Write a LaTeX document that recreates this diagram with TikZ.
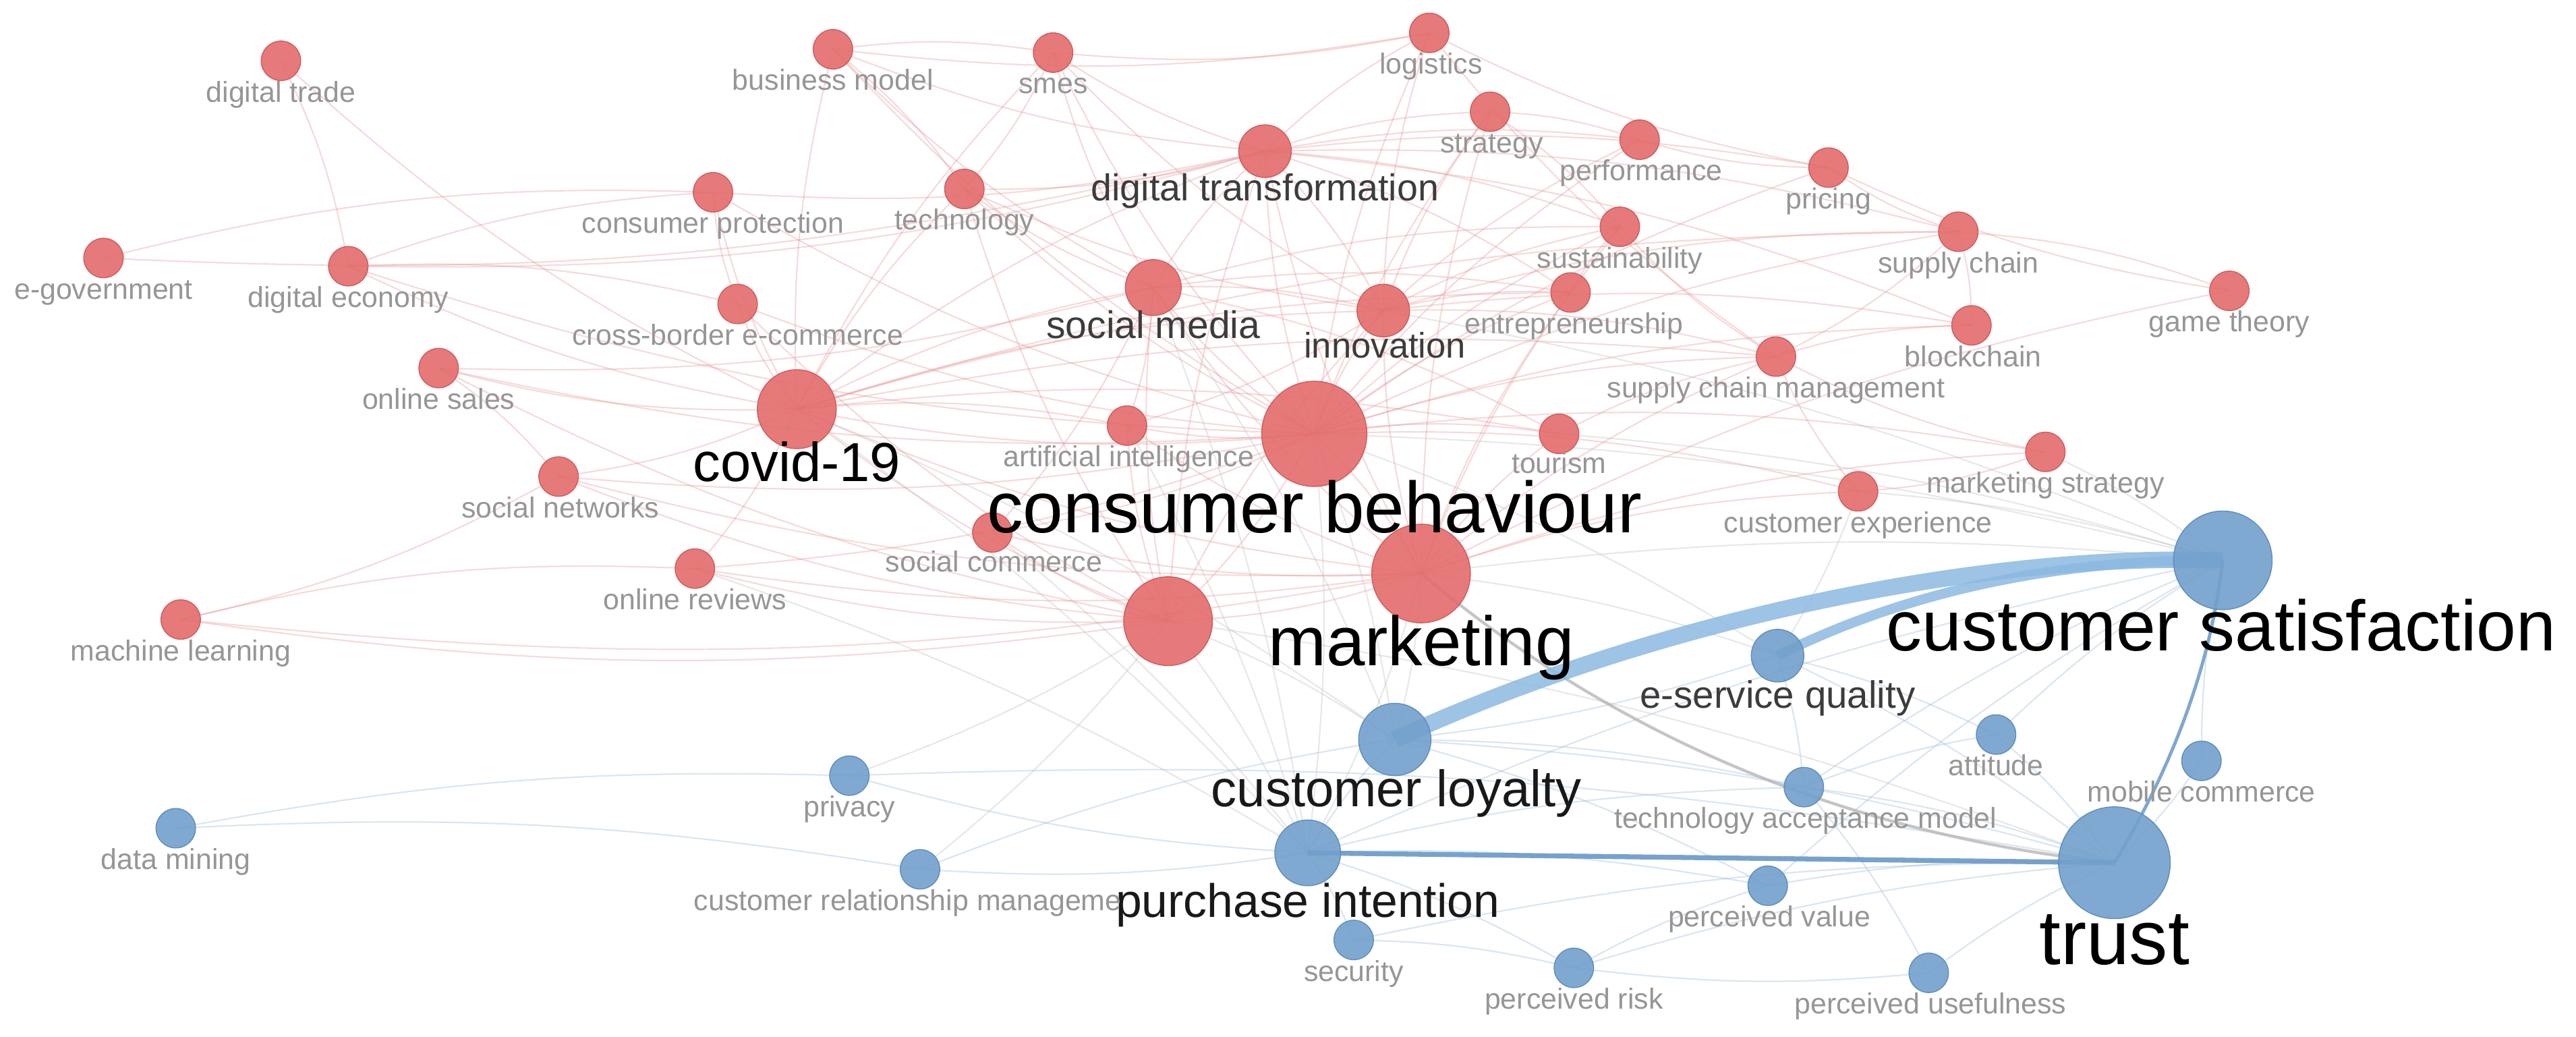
\documentclass[tikz,border=0pt]{standalone}
\usepackage{fontspec}
\setmainfont{Liberation Sans}
\definecolor{nred}{RGB}{228,108,108}
\definecolor{nredd}{RGB}{210,92,92}
\definecolor{nblue}{RGB}{114,160,204}
\definecolor{nblued}{RGB}{96,142,188}
\definecolor{lgrey}{RGB}{150,150,150}
\definecolor{mgrey}{RGB}{60,60,60}
\definecolor{dgrey}{RGB}{25,25,25}
\definecolor{ered}{RGB}{230,145,145}
\definecolor{eblue}{RGB}{160,190,220}
\definecolor{egrey}{RGB}{195,195,195}
\definecolor{band}{RGB}{140,185,225}
\definecolor{bandd}{RGB}{105,152,200}
\pgfdeclarelayer{bg}
\pgfsetlayers{bg,main}
\begin{document}
\begin{tikzpicture}[x=0.5pt,y=-0.5pt,
  rn/.style={circle,fill=nred,fill opacity=0.9,draw=nredd,line width=0.3pt,inner sep=0pt,minimum size=#1pt},
  bn/.style={circle,fill=nblue,fill opacity=0.9,draw=nblued,line width=0.3pt,inner sep=0pt,minimum size=#1pt},
  lab/.style={anchor=base,inner sep=0pt,text=lgrey,font=\fontsize{8.8}{10}\selectfont},
  labm/.style={anchor=base,inner sep=0pt,text=mgrey,font=\fontsize{#1}{#1}\selectfont},
  labb/.style={anchor=base,inner sep=0pt,text=black,font=\fontsize{#1}{#1}\selectfont},
  fr/.style={draw=ered,line width=0.45pt,opacity=0.33},
  fg/.style={draw=egrey,line width=0.45pt,opacity=0.38},
  fb/.style={draw=eblue,line width=0.45pt,opacity=0.38}]
\useasboundingbox (0,0) rectangle (1568,631);

% ---------- red cluster ----------
\node[rn=12] (dtr) at (171,37) {};
\node[rn=12] (bm) at (507,30) {};
\node[rn=12] (smes) at (641,32) {};
\node[rn=12] (logi) at (870,20) {};
\node[rn=12] (strat) at (907,68) {};
\node[rn=12] (perf) at (998,85) {};
\node[rn=12] (pri) at (1113,102) {};
\node[rn=16] (dt) at (770,92) {};
\node[rn=12] (tech) at (587,115) {};
\node[rn=12] (cp) at (434,117) {};
\node[rn=12] (sus) at (986,138) {};
\node[rn=12] (sc) at (1192,141) {};
\node[rn=12] (egov) at (63,157) {};
\node[rn=12] (deco) at (212,162) {};
\node[rn=17] (sm) at (702,175) {};
\node[rn=16] (inn) at (842,189) {};
\node[rn=12] (ent) at (956,178) {};
\node[rn=12] (cbe) at (449,185) {};
\node[rn=12] (bc) at (1200,198) {};
\node[rn=12] (gt) at (1357,177) {};
\node[rn=12] (scm) at (1081,217) {};
\node[rn=12] (os) at (267,224) {};
\node[rn=24] (cov) at (485,249) {};
\node[rn=32] (cb) at (800,264) {};
\node[rn=12] (ai) at (686,259) {};
\node[rn=12] (tou) at (949,264) {};
\node[rn=12] (ms) at (1245,275) {};
\node[rn=12] (sn) at (340,290) {};
\node[rn=12] (cx) at (1131,299) {};
\node[rn=12] (scom) at (604,324) {};
\node[rn=30] (mk) at (865,349) {};
\node[rn=12] (orv) at (423,346) {};
\node[rn=12] (ml) at (110,377) {};
\node[rn=27] (ec) at (711,378) {};

% ---------- blue cluster ----------
\node[bn=30] (sat) at (1353,341) {};
\node[bn=16] (esq) at (1082,399) {};
\node[bn=22] (loy) at (849,450) {};
\node[bn=12] (att) at (1215,447) {};
\node[bn=12] (mc) at (1340,463) {};
\node[bn=12] (tam) at (1098,479) {};
\node[bn=12] (prv) at (517,472) {};
\node[bn=12] (dm) at (107,504) {};
\node[bn=34] (tr) at (1287,525) {};
\node[bn=20] (pin) at (796,519) {};
\node[bn=12] (crm) at (560,529) {};
\node[bn=12] (pv) at (1076,539) {};
\node[bn=12] (secu) at (824,572) {};
\node[bn=12] (pr) at (958,589) {};
\node[bn=12] (pu) at (1174,592) {};

% ---------- connectors ----------
\begin{pgfonlayer}{bg}
\fill[white] (0,0) rectangle (1568,631);
\foreach \a/\b in {cb/cov,cb/sm,cb/dt,cb/inn,cb/mk,cb/ec,cb/ai,cb/tou,cb/tech,cb/smes,cb/bm,cb/logi,cb/strat,cb/sus,cb/ent,cb/scm,cb/cx,cb/ms,cb/scom,cb/orv,cb/sn,cb/cbe,cb/cp,cb/perf,cb/pri,cb/sc,cb/bc,cb/os,cb/deco,
  mk/ec,mk/cov,mk/sm,mk/dt,mk/inn,mk/ai,mk/tou,mk/cx,mk/ms,mk/scm,mk/ent,mk/sus,mk/scom,mk/orv,mk/ml,mk/sn,mk/strat,mk/gt,
  ec/cov,ec/sm,ec/scom,ec/orv,ec/ml,ec/sn,ec/cbe,ec/os,ec/ai,ec/dt,ec/inn,ec/tech,
  cov/sm,cov/dt,cov/inn,cov/tech,cov/os,cov/cbe,cov/cp,cov/deco,cov/dtr,cov/sn,cov/orv,cov/scm,cov/tou,cov/ent,cov/sc,cov/bm,cov/smes,cov/ai,
  sm/dt,sm/inn,sm/tech,sm/smes,sm/bm,sm/ai,sm/ent,sm/sus,sm/scom,sm/tou,sm/os,
  dt/inn,dt/strat,dt/logi,dt/smes,dt/bm,dt/tech,dt/perf,dt/sus,dt/ent,dt/pri,dt/sc,dt/egov,dt/cp,dt/deco,dt/bc,
  inn/ent,inn/sus,inn/strat,inn/perf,inn/logi,inn/smes,inn/scm,inn/bc,inn/sc,inn/tech,inn/ai,
  sc/bc,sc/scm,sc/pri,sc/gt,scm/bc,scm/logi,scm/sus,gt/pri,ms/cx,ms/scm,pri/logi,pri/perf,logi/smes,logi/bm,bm/smes,bm/tech,smes/tech,
  deco/cbe,deco/cp,cbe/cp,os/sn,sn/ml,ml/orv,dtr/deco,strat/perf,strat/sus,ent/sus,tou/scm,cx/scm,egov/cp}
  \draw[fr] (\a.center) to[bend left=8] (\b.center);
\foreach \a/\b in {pin/loy,pin/tam,pin/pr,pin/pv,pin/secu,pin/crm,pin/prv,pin/sat,pr/tr,pr/pv,pv/tr,pu/tr,tam/tr,tam/pu,att/tr,mc/tr,esq/tr,esq/loy,esq/tam,prv/tr,dm/prv,dm/crm,crm/loy,secu/tr,secu/pr,loy/tam,att/sat,mc/sat,tam/att,pu/pr,loy/pv,esq/att,loy/tr,pv/sat,tam/sat}
  \draw[fb] (\a.center) to[bend left=6] (\b.center);
\foreach \a/\b in {cb/loy,mk/loy,mk/pin,cb/sat,mk/sat,ec/pin,ec/loy,cov/pin,sm/pin,ec/prv,mk/esq,cb/pin,ec/crm,cov/loy,cx/sat,ms/sat,cx/esq,ec/tr,cb/esq,sm/loy,tou/sat,orv/pin,scom/pin,ai/pin,inn/sat}
  \draw[fg] (\a.center) to[bend left=6] (\b.center);
% stronger links
\draw[draw=black!30,line width=0.9pt,opacity=0.75] (mk.center) .. controls (984,449) and (1125,508) .. (tr.center);
\draw[draw=band,line width=5pt,opacity=0.85] (loy.center) .. controls (1000,380) and (1200,336) .. (sat.center);
\draw[draw=band,line width=3pt,opacity=0.85] (esq.center) .. controls (1150,365) and (1240,340) .. (sat.center);
\draw[draw=bandd,line width=1.5pt,opacity=0.9] (pin.center) -- (tr.center);
\draw[draw=bandd,line width=1pt,opacity=0.85] (tr.center) .. controls (1324,464) and (1346,402) .. (sat.center);
\end{pgfonlayer}

% ---------- labels ----------
\node[lab] (ldtr) at (171,62) {digital trade};
\node[lab] (lbm) at (507,55) {business model};
\node[lab] (lsmes) at (641,57) {smes};
\node[lab] (llogi) at (871,45) {logistics};
\node[lab] (lstrat) at (908,93) {strategy};
\node[lab] (lperf) at (999,110) {performance};
\node[lab] (lpri) at (1113,127) {pricing};
\node[labm=11.4] (ldt) at (770,122) {digital transformation};
\node[lab] (ltech) at (587,140) {technology};
\node[lab] (lcp) at (434,142) {consumer protection};
\node[lab] (lsus) at (986,163) {sustainability};
\node[lab] (lsc) at (1192,166) {supply chain};
\node[lab] (legov) at (63,182) {e-government};
\node[lab] (ldeco) at (212,187) {digital economy};
\node[labm=11.7] (lsm) at (702,206) {social media};
\node[labm=10.8] (linn) at (843,218) {innovation};
\node[lab] (lent) at (958,203) {entrepreneurship};
\node[lab] (lcbe) at (449,210) {cross-border e-commerce};
\node[lab] (lbc) at (1201,223) {blockchain};
\node[lab] (lgt) at (1357,202) {game theory};
\node[lab] (lscm) at (1081,242) {supply chain management};
\node[lab] (los) at (267,249) {online sales};
\node[labb=16.7] (lcov) at (485,293) {covid-19};
\node[labb=22] (lcb) at (800,324) {consumer behaviour};
\node[lab] (lai) at (687,284) {artificial intelligence};
\node[lab] (ltou) at (949,288) {tourism};
\node[lab] (lms) at (1245,300) {marketing strategy};
\node[lab] (lsn) at (341,315) {social networks};
\node[lab] (lcx) at (1131,324) {customer experience};
\node[lab] (lscom) at (605,348) {social commerce};
\node[labb=21.2] (lmk) at (865,405) {marketing};
\node[lab] (lorv) at (423,371) {online reviews};
\node[lab] (lml) at (110,402) {machine learning};

\node[labb=21.7] (lsat) at (1352,396) {customer satisfaction};
\node[labm=11.6] (lesq) at (1082,431) {e-service quality};
\node[labb=15.6,text=dgrey] (lloy) at (850,491) {customer loyalty};
\node[lab] (latt) at (1215,472) {attitude};
\node[lab] (lmc) at (1340,488) {mobile commerce};
\node[lab] (ltam) at (1099,504) {technology acceptance model};
\node[lab] (lprv) at (517,497) {privacy};
\node[lab] (ldm) at (107,529) {data mining};
\node[labb=23.5] (ltr) at (1287,587) {trust};
\node[labb=14.3,text=dgrey] (lpin) at (796,558) {purchase intention};
\node[lab,anchor=base west] (lcrm) at (422,554) {customer relationship manageme};
\node[lab] (lpv) at (1077,564) {perceived value};
\node[lab] (lsecu) at (824,597) {security};
\node[lab] (lpr) at (958,614) {perceived risk};
\node[lab] (lpu) at (1175,617) {perceived usefulness};
\end{tikzpicture}
\end{document}
